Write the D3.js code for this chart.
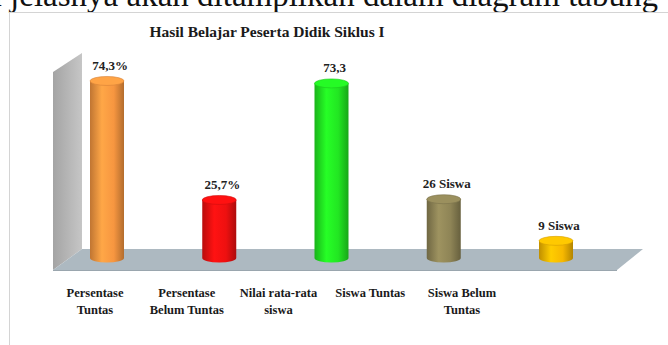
<!DOCTYPE html>
<html>
<head>
<meta charset="utf-8">
<script src="https://cdn.jsdelivr.net/npm/d3@7"></script>
<style>
  body { margin: 0; background: #fff; }
  svg { display: block; }
  text { font-family: "Liberation Serif", "Times New Roman", serif; }
</style>
</head>
<body>
<div id="chart"></div>
<script>
var svgWidth = 668;
var svgHeight = 345;

// data
var categories = ["Persentase Tuntas", "Persentase Belum Tuntas", "Nilai rata-rata siswa", "Siswa Tuntas", "Siswa Belum Tuntas"];
var tickLines = [["Persentase", "Tuntas"], ["Persentase", "Belum Tuntas"], ["Nilai rata-rata", "siswa"], ["Siswa Tuntas"], ["Siswa Belum", "Tuntas"]];
var values = [74.3, 25.7, 73.3, 26, 9];
var valueLabels = ["74,3%", "25,7%", "73,3", "26 Siswa", "9 Siswa"];
var colors = ["#f79640", "#ee1010", "#22e622", "#8e8456", "#f7b800"];

var svg = d3.select("#chart")
  .append("svg")
  .attr("width", svgWidth)
  .attr("height", svgHeight);

var defs = svg.append("defs");

// text of the page above the chart, cut by the crop
svg.append("text")
  .attr("x", 658)
  .attr("y", 6)
  .attr("text-anchor", "end")
  .attr("font-size", 33)
  .attr("fill", "#111")
  .text("Untuk lebih jelasnya akan ditampilkan dalam diagram tabung");

// chart frame
svg.append("rect")
  .attr("x", 9.5)
  .attr("y", 12.5)
  .attr("width", 700)
  .attr("height", 400)
  .attr("fill", "#fff")
  .attr("stroke", "#d4d4d4");

svg.append("text")
  .attr("x", 267)
  .attr("y", 37)
  .attr("text-anchor", "middle")
  .attr("font-size", 15.5)
  .attr("font-weight", "bold")
  .attr("fill", "#1a1a1a")
  .text("Hasil Belajar Peserta Didik  Siklus I");

// scales
var x = d3.scalePoint().domain(categories).range([107, 556]);
var xLabel = d3.scalePoint().domain(categories).range([95, 462]);
var y = d3.scaleLinear().domain([2, 80]).range([258, 67]);

// 3d back wall and floor
var wallGrad = defs.append("linearGradient").attr("id", "wall");
wallGrad.append("stop").attr("offset", "0%").attr("stop-color", "#a4a4a4");
wallGrad.append("stop").attr("offset", "100%").attr("stop-color", "#c6c6c6");

svg.append("path")
  .attr("d", "M53,72 L82,53 L82,249 L53,270 Z")
  .attr("fill", "url(#wall)");

svg.append("path")
  .attr("d", "M82,249 L643,249 L617,270 L53,270 Z")
  .attr("fill", "#adb9c1");

svg.append("line")
  .attr("x1", 53).attr("y1", 270.5)
  .attr("x2", 617).attr("y2", 270.5)
  .attr("stroke", "#9aa6ae");

// cylinder gradients
colors.forEach(function(c, i) {
  var g = defs.append("linearGradient").attr("id", "cyl" + i);
  g.append("stop").attr("offset", "0%").attr("stop-color", d3.color(c).darker(0.7));
  g.append("stop").attr("offset", "35%").attr("stop-color", d3.color(c).brighter(0.3));
  g.append("stop").attr("offset", "70%").attr("stop-color", c);
  g.append("stop").attr("offset", "100%").attr("stop-color", d3.color(c).darker(0.9));
});

var rx = 17;
var ry = 4.5;
var base = y(2);

var bars = svg.selectAll(".bar")
  .data(values)
  .enter()
  .append("g")
  .attr("class", "bar");

bars.append("path")
  .attr("d", function(d, i) {
    var cx = x(categories[i]);
    var top = y(d);
    return "M" + (cx - rx) + "," + top +
      " L" + (cx - rx) + "," + base +
      " A" + rx + "," + ry + " 0 0 0 " + (cx + rx) + "," + base +
      " L" + (cx + rx) + "," + top + " Z";
  })
  .attr("fill", function(d, i) { return "url(#cyl" + i + ")"; });

bars.append("ellipse")
  .attr("cx", function(d, i) { return x(categories[i]); })
  .attr("cy", function(d) { return y(d); })
  .attr("rx", rx)
  .attr("ry", ry)
  .attr("fill", function(d, i) { return d3.color(colors[i]).brighter(0.25); })
  .attr("stroke", function(d, i) { return d3.color(colors[i]).darker(0.4); })
  .attr("stroke-width", 0.6);

// value labels
svg.selectAll(".valueLabel")
  .data(values)
  .enter()
  .append("text")
  .attr("class", "valueLabel")
  .attr("x", function(d, i) { return x(categories[i]) + 3; })
  .attr("y", function(d) { return y(d) - 11; })
  .attr("text-anchor", "middle")
  .attr("font-size", 13)
  .attr("font-weight", "bold")
  .attr("fill", "#222")
  .text(function(d, i) { return valueLabels[i]; });

// category labels
var ticks = svg.selectAll(".tick")
  .data(categories)
  .enter()
  .append("text")
  .attr("class", "tick")
  .attr("text-anchor", "middle")
  .attr("font-size", 12.5)
  .attr("font-weight", "bold")
  .attr("fill", "#1a1a1a");

ticks.selectAll("tspan")
  .data(function(d, i) { return tickLines[i].map(function(t) { return { t: t, c: d }; }); })
  .enter()
  .append("tspan")
  .attr("x", function(d) { return xLabel(d.c); })
  .attr("y", function(d, j) { return 297 + j * 17; })
  .text(function(d) { return d.t; });
</script>
</body>
</html>
